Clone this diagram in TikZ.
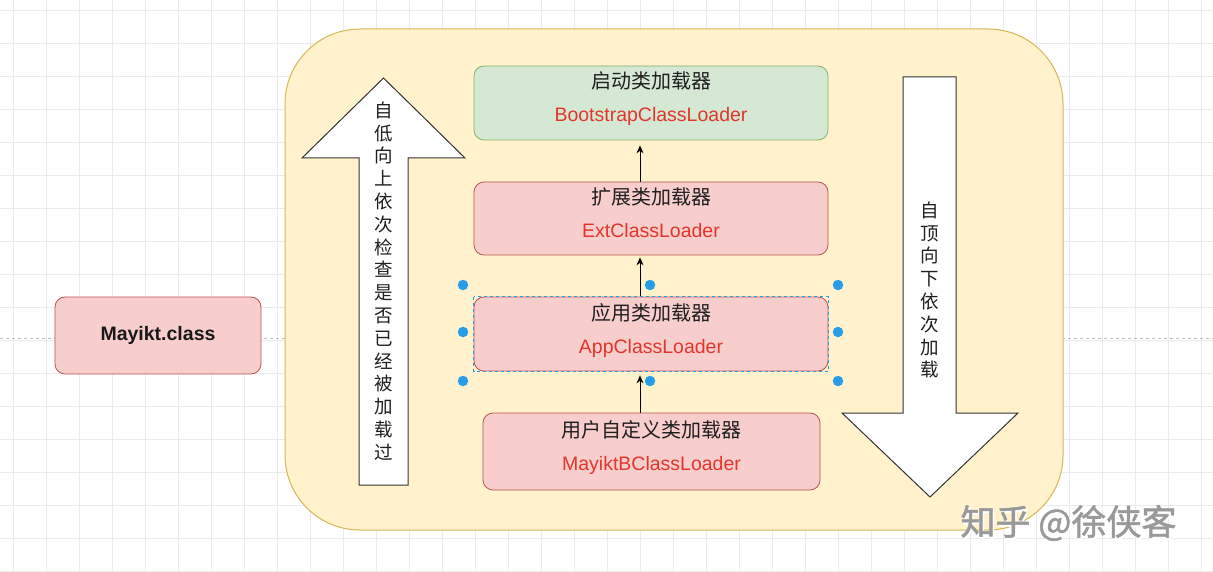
\documentclass[tikz,border=0pt]{standalone}
\usepackage{fontspec}
\setmainfont{Liberation Sans}
\newfontfamily\cjk{Noto Sans CJK SC}
\newfontfamily\cjkmark[FakeBold=1.5]{Noto Sans CJK SC}
\usetikzlibrary{arrows.meta}
\definecolor{gridGray}{HTML}{EBEBEB}
\definecolor{paneFill}{HTML}{FFF2CC}
\definecolor{paneLine}{HTML}{D6B656}
\definecolor{greenFill}{HTML}{D5E8D4}
\definecolor{greenLine}{HTML}{82B366}
\definecolor{pinkFill}{HTML}{F8CECC}
\definecolor{pinkLine}{HTML}{B85450}
\definecolor{loaderRed}{HTML}{E3352B}
\definecolor{selBlue}{HTML}{2A9DE8}

\begin{document}
\begin{tikzpicture}[x=1pt,y=-1pt,
  box/.style={rounded corners=10pt,line width=.8pt,inner sep=0pt},
  greenbox/.style={box,draw=greenLine,fill=greenFill},
  pinkbox/.style={box,draw=pinkLine,fill=pinkFill},
  title/.style={anchor=base,font=\cjk\fontsize{20}{20}\selectfont,text=black!88},
  loadername/.style={anchor=base,font=\fontsize{19.5}{19.5}\selectfont,text=loaderRed},
  vtext/.style={align=center,inner sep=0pt,font=\cjk\fontsize{18.5}{22.8}\selectfont,text=black!88},
  bigarrow/.style={draw=black!80,fill=white,line width=1pt,line join=miter},
  link/.style={-{Stealth[length=8pt,width=7pt]},line width=.9pt,black},
  handle/.style={circle,fill=selBlue,inner sep=0pt,minimum size=10.5pt}]
 \useasboundingbox (0,0) rectangle (1213,572);
 \fill[white] (0,0) rectangle (1213,572);
 \foreach \x in {13,46,...,1213} \draw[gridGray,line width=.8pt] (\x,0) -- (\x,572);
 \foreach \y in {10,43,...,572} \draw[gridGray,line width=.8pt] (0,\y) -- (1213,\y);
 \draw[black!25,dashed,line width=.8pt] (0,338) -- (1213,338);

 \draw[draw=paneLine,fill=paneFill,line width=1pt,rounded corners=75pt] (285,29) rectangle (1063,530);

 \node[pinkbox,minimum width=206pt,minimum height=77pt,
   font=\bfseries\fontsize{19.5}{19.5}\selectfont,text=black!90] (cls) at (158,335.5) {Mayikt.class};

 \foreach \n/\cx/\cy/\w/\h/\st/\t/\e in {
   boot/651/103/354/74/greenbox/启动类加载器/BootstrapClassLoader,
   ext/651/218.5/354/73/pinkbox/扩展类加载器/ExtClassLoader,
   app/651/334/354/74/pinkbox/应用类加载器/AppClassLoader,
   mb/651.5/451.5/337/77/pinkbox/用户自定义类加载器/MayiktBClassLoader} {
  \node[\st,minimum width=\w pt,minimum height=\h pt] (\n) at (\cx,\cy) {};
  \node[title] (\n-t) at (\cx,\cy-14) {\t};
  \node[loadername] (\n-n) at (\cx,\cy+19) {\e};
 }

 \coordinate (axis) at (640,0);
 \draw[link] (ext.north -| axis) -- ([yshift=-5pt]boot.south -| axis);
 \draw[link] (app.north -| axis) -- ([yshift=-2pt]ext.south -| axis);
 \draw[link] (mb.north -| axis) -- ([yshift=-4pt]app.south -| axis);

 \draw[selBlue,dashed,line width=.6pt] (app.north west) rectangle (app.south east);
 \foreach \x/\y in {463/285,650/285,838/285,463/332,838/332,463/381,650/381,838/381}
  \node[handle] (h-\x-\y) at (\x,\y) {};

 \draw[bigarrow] (359,485) -- (359,158) -- (302,158) -- (383.5,78) -- (465,158)
   -- (408,158) -- (408,485) -- cycle;
 \node[vtext] (upnote) at (383.5,281) {自\\低\\向\\上\\依\\次\\检\\查\\是\\否\\已\\经\\被\\加\\载\\过};

 \draw[bigarrow] (903,77) -- (956,77) -- (956,413) -- (1018,413) -- (930,497)
   -- (842,413) -- (903,413) -- cycle;
 \node[vtext] (downnote) at (929.5,290) {自\\顶\\向\\下\\依\\次\\加\\载};

 \node[font=\cjkmark\fontsize{35}{35}\selectfont,text=white] at (1070,525) {知乎 @徐侠客};
 \node[font=\cjkmark\fontsize{35}{35}\selectfont,text=black!40] (mark) at (1068.5,523) {知乎 @徐侠客};
\end{tikzpicture}
\end{document}
